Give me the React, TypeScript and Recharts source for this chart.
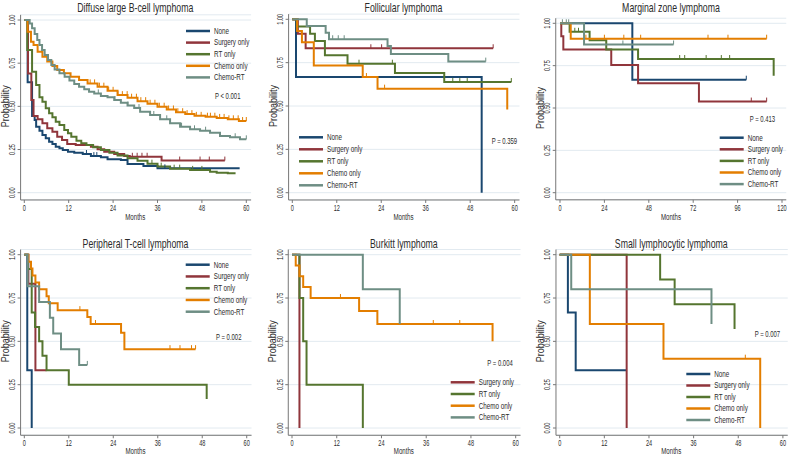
import React from 'react';
import { ComposedChart, Line, XAxis, YAxis, CartesianGrid } from 'recharts';

const GROUPS = ['None', 'Surgery only', 'RT only', 'Chemo only', 'Chemo-RT'];
const COLORS = ['#1a476f', '#90353b', '#55752f', '#e37e00', '#6e8e84'];
const PROB_TICKS = [0, 0.25, 0.5, 0.75, 1];
const MONTH_TICKS = [0, 12, 24, 36, 48, 60];
const MZL_TICKS = [0, 24, 48, 72, 96, 120];

// Diffuse large B-cell lymphoma  [month, survival]
const dlbclNone = [[0, 1], [0.9, 0.64], [2.1, 0.444], [2.8, 0.421], [3.2, 0.382], [4.1, 0.359], [4.9, 0.334], [5.8, 0.315], [6.7, 0.295], [7.6, 0.282], [8.5, 0.266], [9.5, 0.257], [10.4, 0.247], [11.8, 0.237], [13.5, 0.232], [15.8, 0.224], [18, 0.212], [20.7, 0.205], [22.5, 0.193], [26.1, 0.189], [27.9, 0.166], [32.2, 0.155], [36, 0.141]];
const dlbclNoneCens = [16.8, 18.8, 19.6, 38];
const dlbclSurgery = [[0, 1], [1.0, 0.69], [1.9, 0.537], [2.5, 0.444], [3.6, 0.425], [4.9, 0.402], [6.2, 0.373], [7.6, 0.353], [8.9, 0.324], [10.2, 0.305], [11.6, 0.282], [13.9, 0.276], [18, 0.266], [19.8, 0.251], [21.6, 0.237], [24.3, 0.224], [27, 0.212], [28.5, 0.208], [37.1, 0.186]];
const dlbclSurgeryCens = [29.2, 30.5, 31.8, 33.2, 42, 47.5, 50, 54.2];
const dlbclRT = [[0, 1], [0.8, 0.826], [2.1, 0.7], [3.2, 0.624], [4.1, 0.552], [4.9, 0.527], [5.8, 0.489], [6.7, 0.46], [7.6, 0.437], [8.5, 0.411], [9.5, 0.392], [10.8, 0.363], [11.8, 0.344], [12.7, 0.324], [14.1, 0.301], [15.4, 0.286], [16.8, 0.276], [18.6, 0.263], [20.7, 0.247], [23, 0.232], [25.2, 0.216], [27.9, 0.199], [30.6, 0.185], [33.3, 0.168], [36, 0.151], [39.4, 0.139], [44.8, 0.132], [50.2, 0.122], [52, 0.116], [55, 0.112]];
const dlbclRTCens = [34.5, 37, 40.5, 42, 45.5, 48];
const dlbclChemo = [[0, 1], [0.9, 0.932], [1.8, 0.874], [2.5, 0.855], [3.6, 0.816], [4.9, 0.787], [6.2, 0.759], [7.6, 0.734], [8.9, 0.71], [10.7, 0.691], [12.5, 0.672], [14.8, 0.653], [17.1, 0.633], [19.8, 0.614], [22.5, 0.59], [25.2, 0.565], [27.9, 0.55], [30.6, 0.53], [33.3, 0.515], [36, 0.498], [38.5, 0.482], [41, 0.466], [43.5, 0.455], [46, 0.445], [49, 0.44], [52, 0.433], [55, 0.425], [58, 0.415]];
const dlbclChemoCens = [17.8, 19, 20.3, 21.5, 22.8, 24, 25.3, 26.5, 27.8, 29, 30.3, 31.5, 32.8, 34, 35.3, 36.5, 37.8, 39, 40.3, 41.5, 42.8, 44, 45.3, 46.5, 47.8, 49.5, 50.3, 51.5, 52.8, 54, 55.3, 56.5, 57.8, 59, 60];
const dlbclChemoRT = [[0, 1], [1.45, 0.98], [2.1, 0.952], [2.8, 0.919], [3.5, 0.884], [4.1, 0.855], [4.8, 0.826], [5.5, 0.797], [6.4, 0.768], [7.3, 0.739], [8.2, 0.714], [9.5, 0.691], [10.9, 0.672], [12.2, 0.649], [13.5, 0.629], [14.8, 0.614], [16.2, 0.599], [17.5, 0.585], [18.9, 0.575], [20.7, 0.56], [22.5, 0.552], [24.3, 0.537], [26.1, 0.521], [27.9, 0.505], [29.7, 0.49], [31.3, 0.469], [34, 0.45], [36.7, 0.425], [39.4, 0.402], [42.1, 0.382], [44.8, 0.367], [47.5, 0.359], [50.2, 0.347], [52.9, 0.328], [55.6, 0.321], [58.3, 0.309]];
const dlbclChemoRTCens = [20, 24.5, 28, 31, 35, 38.5, 42.5, 46, 49, 53, 57, 60];

// Follicular lymphoma
const flNone = [[0, 1], [1, 0.667], [51.1, 0]];
const flSurgery = [[0, 1], [1.5, 0.917], [3.6, 0.833]];
const flSurgeryCens = [21.2, 24.1, 54.2];
const flRT = [[0, 1], [1.2, 0.958], [4.8, 0.917], [6.1, 0.875], [8.8, 0.792], [14.9, 0.744], [27.7, 0.69], [41, 0.638]];
const flRTCens = [18, 27, 43.3, 45.2, 47.2, 59.1];
const flChemo = [[0, 1], [1.3, 0.933], [2.6, 0.867], [5.8, 0.733], [19, 0.667], [23, 0.6], [58, 0.48]];
const flChemoCens = [20, 24.9];
const flChemoRT = [[0, 1], [3.9, 0.962], [9, 0.923], [9.9, 0.885], [25.7, 0.846], [26.6, 0.8], [42.1, 0.756]];
const flChemoRTCens = [10.9, 12.4, 14, 52.2];

// Marginal zone lymphoma
const mzlNone = [[0, 1], [39.1, 0.667]];
const mzlNoneCens = [100.7];
const mzlSurgery = [[0, 1], [0.7, 0.923], [1.8, 0.846], [27.7, 0.754], [42.2, 0.646], [75.1, 0.538]];
const mzlSurgeryCens = [103.4, 111.7];
const mzlRT = [[0, 1], [5.2, 0.95], [16, 0.9], [25, 0.846], [42.2, 0.789], [115.5, 0.69]];
const mzlRTCens = [8, 10, 64.7, 67.4, 79, 87.2, 91.7];
const mzlChemo = [[0, 1], [5.8, 0.909]];
const mzlChemoCens = [14, 24, 34.5, 43.6, 80, 90.8, 111.7];
const mzlChemoRT = [[0, 1], [13, 0.875]];
const mzlChemoRTCens = [1.3, 3.4, 4.7, 34, 61.4];

// Peripheral T-cell lymphoma
const ptclNone = [[0, 1], [0.8, 0.333], [2, 0]];
const ptclSurgery = [[0, 1], [1.1, 0.833], [3, 0.333]];
const ptclRT = [[0, 1], [1, 0.917], [2, 0.667], [2.9, 0.583], [4, 0.5], [4.9, 0.417], [6, 0.333], [12, 0.25], [49.2, 0.167]];
const ptclChemo = [[0, 1], [1.1, 0.96], [1.8, 0.92], [2.2, 0.88], [3, 0.84], [4, 0.8], [6, 0.76], [6.6, 0.72], [9, 0.68], [17, 0.64], [17.9, 0.6], [26.1, 0.55], [27, 0.455]];
const ptclChemoCens = [15, 19.2, 39.3, 42, 45.1, 46.2];
const ptclChemoRT = [[0, 1], [0.9, 0.818], [4, 0.727], [6.9, 0.636], [7.8, 0.545], [9.9, 0.455], [14.8, 0.364]];
const ptclChemoRTCens = [17];

// Burkitt lymphoma
const blSurgery = [[0, 1], [2, 0]];
const blRT = [[0, 1], [2, 0.75], [3, 0.5], [3.9, 0.25], [19, 0]];
const blChemo = [[0, 1], [1, 0.938], [2, 0.875], [3, 0.813], [5, 0.75], [18, 0.675], [22.9, 0.6], [53.8, 0.5]];
const blChemoCens = [13, 37.9, 45];
const blChemoRT = [[0, 1], [19, 0.8], [28.9, 0.6]];

// Small lymphocytic lymphoma
const sllNone = [[0, 1], [2.2, 0.667], [4.3, 0.333]];
const sllSurgery = [[0, 1], [18, 0]];
const sllRT = [[0, 1], [27, 0.857], [30.9, 0.714], [47, 0.571]];
const sllChemo = [[0, 1], [8.1, 0.6], [27.9, 0.4], [53.9, 0]];
const sllChemoCens = [49.9];
const sllChemoRT = [[0, 1], [3.1, 0.8], [40.8, 0.6]];

const W = 264;
const H = 229;
const YLO = -0.042;
const YHI = 1.03;
const FONT = "'Liberation Sans', Arial, sans-serif";
const INK = '#2b2b2b';

// merge event steps and censor times into one series for a stepAfter line
const build = (steps, cens = [], end) => {
  const valueAt = (t) => {
    let v = 1;
    steps.forEach(([tt, s]) => { if (tt <= t) v = s; });
    return v;
  };
  const pts = steps.map(([t, s]) => ({ t, s, c: false }));
  cens.forEach((t) => pts.push({ t, s: valueAt(t), c: true }));
  if (end != null) pts.push({ t: end, s: valueAt(end), c: false });
  return pts.sort((a, b) => a.t - b.t);
};

const panels = [
  {
    title: 'Diffuse large B-cell lymphoma', ox: 0, oy: 0,
    x0: 24.3, xs: 3.7, xlo: -1, xhi: 61.3, y1: 20, y0: 192.7, ticks: MONTH_TICKS,
    titleY: 7.5, monthsY: 217,
    series: [
      { g: 0, data: build(dlbclNone, dlbclNoneCens, 58.2) },
      { g: 1, data: build(dlbclSurgery, dlbclSurgeryCens) },
      { g: 2, data: build(dlbclRT, dlbclRTCens, 57.1) },
      { g: 3, data: build(dlbclChemo, dlbclChemoCens) },
      { g: 4, data: build(dlbclChemoRT, dlbclChemoRTCens) },
    ],
    legend: { groups: [0, 1, 2, 3, 4], x: 186, y: 31, step: 11.6 },
    p: { text: 'P < 0.001', x: 215, y: 96 },
  },
  {
    title: 'Follicular lymphoma', ox: 264, oy: 0,
    x0: 28.3, xs: 3.706, xlo: -1, xhi: 61.3, y1: 19.3, y0: 192.7, ticks: MONTH_TICKS,
    titleY: 7.5, monthsY: 217,
    series: [
      { g: 0, data: build(flNone) },
      { g: 1, data: build(flSurgery, flSurgeryCens) },
      { g: 2, data: build(flRT, flRTCens) },
      { g: 3, data: build(flChemo, flChemoCens) },
      { g: 4, data: build(flChemoRT, flChemoRTCens) },
    ],
    legend: { groups: [0, 1, 2, 3, 4], x: 35, y: 137.3, step: 12 },
    p: { text: 'P = 0.359', x: 227.7, y: 141.3 },
  },
  {
    title: 'Marginal zone lymphoma', ox: 528, oy: 0,
    x0: 32, xs: 1.85, xlo: -2.3, xhi: 122.3, y1: 23.3, y0: 192.7, ticks: MZL_TICKS,
    titleY: 7.5, monthsY: 217,
    series: [
      { g: 0, data: build(mzlNone, mzlNoneCens) },
      { g: 1, data: build(mzlSurgery, mzlSurgeryCens) },
      { g: 2, data: build(mzlRT, mzlRTCens) },
      { g: 3, data: build(mzlChemo, mzlChemoCens) },
      { g: 4, data: build(mzlChemoRT, mzlChemoRTCens) },
    ],
    legend: { groups: [0, 1, 2, 3, 4], x: 191.7, y: 137.7, step: 11.6 },
    p: { text: 'P = 0.413', x: 221.7, y: 119 },
  },
  {
    title: 'Peripheral T-cell lymphoma', ox: 0, oy: 229,
    x0: 24.3, xs: 3.707, xlo: -1, xhi: 61.3, y1: 25.7, y0: 199, ticks: MONTH_TICKS,
    titleY: 14, monthsY: 222.3,
    series: [
      { g: 0, data: build(ptclNone) },
      { g: 1, data: build(ptclSurgery, [], 6) },
      { g: 2, data: build(ptclRT) },
      { g: 3, data: build(ptclChemo, ptclChemoCens) },
      { g: 4, data: build(ptclChemoRT, ptclChemoRTCens) },
    ],
    legend: { groups: [0, 1, 2, 3, 4], x: 185.7, y: 35.7, step: 11.75 },
    p: { text: 'P = 0.002', x: 216, y: 108.3 },
  },
  {
    title: 'Burkitt lymphoma', ox: 264, oy: 229,
    x0: 28, xs: 3.728, xlo: -1, xhi: 61.3, y1: 25.7, y0: 199, ticks: MONTH_TICKS,
    titleY: 14, monthsY: 222.3,
    series: [
      { g: 1, data: build(blSurgery) },
      { g: 2, data: build(blRT) },
      { g: 3, data: build(blChemo, blChemoCens) },
      { g: 4, data: build(blChemoRT) },
    ],
    legend: { groups: [1, 2, 3, 4], x: 186.7, y: 153.3, step: 11.7 },
    p: { text: 'P = 0.004', x: 223.3, y: 134.3 },
  },
  {
    title: 'Small lymphocytic lymphoma', ox: 528, oy: 229,
    x0: 31.7, xs: 3.72, xlo: -1, xhi: 61.3, y1: 25.7, y0: 199, ticks: MONTH_TICKS,
    titleY: 14, monthsY: 222.3,
    series: [
      { g: 0, data: build(sllNone, [], 18) },
      { g: 1, data: build(sllSurgery) },
      { g: 2, data: build(sllRT) },
      { g: 3, data: build(sllChemo, sllChemoCens) },
      { g: 4, data: build(sllChemoRT) },
    ],
    legend: { groups: [0, 1, 2, 3, 4], x: 158.3, y: 145, step: 11.5 },
    p: { text: 'P = 0.007', x: 226.7, y: 105.3 },
  },
];

// narrow text: Stata's face is much narrower than anything installed
const Label = ({ x, y, size, sx = 0.78, anchor = 'start', rotate = false, children }) => (
  <g transform={`translate(${x} ${y})${rotate ? ' rotate(-90)' : ''} scale(${sx} 1)`}>
    <text x={0} y={0} fontSize={size} fontFamily={FONT} textAnchor={anchor} dominantBaseline="central" fill={INK}>
      {children}
    </text>
  </g>
);

const censorDot = (color) => (props) => {
  const { cx, cy, payload, index } = props;
  if (!payload || !payload.c) return <g key={`d-${index}`} />;
  return <line key={`d-${index}`} x1={cx} x2={cx} y1={cy} y2={cy - 4} stroke={color} strokeWidth={1} />;
};

const Panel = ({ cfg }) => {
  const { x0, xs, xlo, xhi, y1, y0 } = cfg;
  const left = x0 + xlo * xs;
  const right = x0 + xhi * xs;
  const span = y0 - y1;
  const top = y0 - YHI * span;
  const bottom = y0 - YLO * span;
  const midX = x0 + (cfg.ticks[cfg.ticks.length - 1] / 2) * xs;

  const YTick = ({ y, payload }) => (
    <Label x={left - 8.5} y={y} size={9} sx={0.62} anchor="middle" rotate>
      {payload.value.toFixed(2)}
    </Label>
  );
  const XTick = ({ x, payload }) => (
    <Label x={x} y={bottom + 8} size={9} sx={0.62} anchor="middle">
      {payload.value}
    </Label>
  );

  return (
    <div style={{ position: 'absolute', left: cfg.ox, top: cfg.oy, width: W, height: H, background: '#fff' }}>
      <ComposedChart width={W} height={H} margin={{ top, right: W - right, bottom: 0, left: 0 }}>
        <CartesianGrid vertical={false} stroke="#e2eaf0" strokeWidth={1} />
        <XAxis
          type="number" dataKey="t" domain={[xlo, xhi]} ticks={cfg.ticks} interval={0}
          allowDataOverflow height={H - bottom} tickSize={3} tick={<XTick />}
          stroke="#777"
        />
        <YAxis
          type="number" dataKey="s" domain={[YLO, YHI]} ticks={PROB_TICKS} interval={0}
          allowDataOverflow width={left} tickSize={3} tick={<YTick />}
          stroke="#777"
        />
        {cfg.series.map((s) => (
          <Line
            key={s.g}
            data={s.data}
            dataKey="s"
            type="stepAfter"
            stroke={COLORS[s.g]}
            strokeWidth={2}
            dot={censorDot(COLORS[s.g])}
            activeDot={false}
            isAnimationActive={false}
          />
        ))}
      </ComposedChart>
      <svg width={W} height={H} style={{ position: 'absolute', left: 0, top: 0, pointerEvents: 'none' }}>
        <Label x={midX} y={cfg.titleY} size={12} sx={0.73} anchor="middle">{cfg.title}</Label>
        <Label x={left - 15.5} y={(y0 + y1) / 2} size={10} sx={0.9} anchor="middle" rotate>Probability</Label>
        <Label x={midX} y={cfg.monthsY} size={9} sx={0.68} anchor="middle">Months</Label>
        {cfg.legend.groups.map((g, i) => {
          const ly = cfg.legend.y + i * cfg.legend.step;
          return (
            <g key={g}>
              <line x1={cfg.legend.x} x2={cfg.legend.x + 24} y1={ly} y2={ly} stroke={COLORS[g]} strokeWidth={2.5} />
              <Label x={cfg.legend.x + 28} y={ly} size={9} sx={0.7}>{GROUPS[g]}</Label>
            </g>
          );
        })}
        <Label x={cfg.p.x} y={cfg.p.y} size={9} sx={0.66}>{cfg.p.text}</Label>
      </svg>
    </div>
  );
};

export default function App() {
  return (
    <div style={{ position: 'relative', width: 792, height: 458, background: '#fff', overflow: 'hidden' }}>
      <style>{'body{margin:0;}'}</style>
      {panels.map((p) => (
        <Panel key={p.title} cfg={p} />
      ))}
    </div>
  );
}
